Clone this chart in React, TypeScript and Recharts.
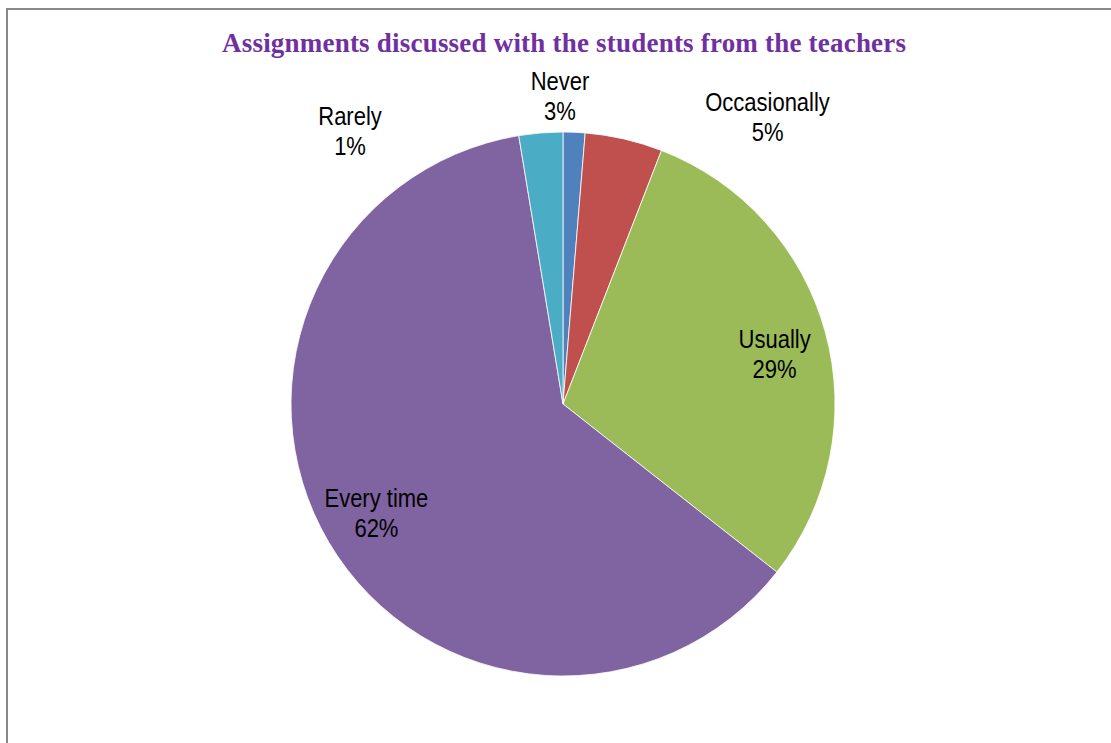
import React from "react";
import { PieChart, Pie, Cell } from "recharts";

const categories = ["Rarely", "Occasionally", "Usually", "Every time", "Never"];
const values = [1.3, 4.6, 29.7, 61.8, 2.6];
const percentLabels = ["1%", "5%", "29%", "62%", "3%"];
const colors = ["#4F81BD", "#C0504D", "#9BBB59", "#8064A2", "#4BACC6"];

// label anchor (centre x, first baseline) relative to pie centre, in units of the radius
const labelAnchors = [
  [-0.783, -1.026],
  [0.752, -1.077],
  [0.778, -0.206],
  [-0.686, 0.377],
  [-0.011, -1.154],
];

const data = categories.map((name, i) => ({ name, value: values[i] }));

const W = 1111;
const H = 743;
const CX = 563;
const CY = 404;
const R = 272;

const renderLabel = (props: any) => {
  const { cx, cy, outerRadius, index } = props;
  const [fx, fy] = labelAnchors[index];
  const x = cx + fx * outerRadius;
  const y = cy + fy * outerRadius;
  const s = 1.16;
  return (
    <g transform={`translate(${x},${y}) scale(1,${s})`}>
      <text
        x={0}
        y={0}
        textAnchor="middle"
        fontFamily="'Liberation Sans', Arial, sans-serif"
        fontSize={22}
        fill="#000"
      >
        {categories[index]}
      </text>
      <text
        x={0}
        y={30 / s}
        textAnchor="middle"
        fontFamily="'Liberation Sans', Arial, sans-serif"
        fontSize={22}
        fill="#000"
      >
        {percentLabels[index]}
      </text>
    </g>
  );
};

export default function App() {
  return (
    <div
      style={{
        position: "absolute",
        left: 0,
        top: 0,
        width: W,
        height: H,
        overflow: "hidden",
        background: "#fff",
      }}
    >
      <div
        style={{
          position: "absolute",
          left: 6,
          top: 8,
          width: 1300,
          height: 900,
          borderLeft: "2px solid #888",
          borderTop: "2px solid #888",
        }}
      />
      <div style={{ position: "absolute", left: 0, top: 0 }}>
        <PieChart width={W} height={H} margin={{ top: 0, right: 0, bottom: 0, left: 0 }}>
          <Pie
            data={data}
            dataKey="value"
            nameKey="name"
            cx={CX}
            cy={CY}
            outerRadius={R}
            startAngle={90}
            endAngle={-270}
            stroke="#fff"
            strokeWidth={0.8}
            label={renderLabel}
            labelLine={false}
            isAnimationActive={false}
          >
            {data.map((d, i) => (
              <Cell key={d.name} fill={colors[i]} />
            ))}
          </Pie>
        </PieChart>
      </div>
      <svg
        width={W}
        height={H}
        style={{ position: "absolute", left: 0, top: 0, pointerEvents: "none" }}
      >
        <text
          x={564}
          y={52}
          textAnchor="middle"
          fontFamily="'Liberation Serif', 'Times New Roman', serif"
          fontWeight="bold"
          fontSize={27}
          fill="#7030A0"
          textLength={684}
          lengthAdjust="spacing"
        >
          Assignments discussed with the students from the teachers
        </text>
      </svg>
    </div>
  );
}
